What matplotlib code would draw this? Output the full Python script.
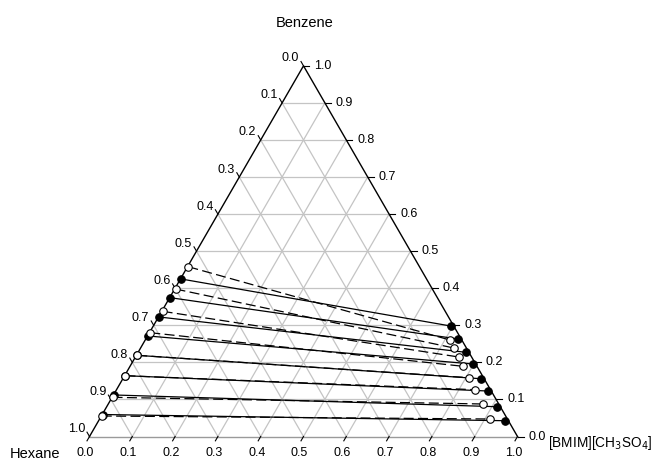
import numpy as np
import matplotlib
matplotlib.use('Agg')
import matplotlib.pyplot as plt

plt.rcParams['font.family'] = ['Liberation Sans', 'DejaVu Sans']

# tie lines, mass fractions (IL, benzene); hexane = 1 - IL - benzene
# filled symbols / solid lines
exp_hex_il = [0.002, 0.002, 0.002, 0.002, 0.002, 0.002, 0.002, 0.002]
exp_hex_bz = [0.4249, 0.3744, 0.3224, 0.2711, 0.2190, 0.1640, 0.1120, 0.0593]
exp_il_il = [0.6948, 0.7302, 0.7661, 0.7975, 0.8360, 0.8697, 0.9112, 0.9495]
exp_il_bz = [0.2981, 0.2630, 0.2271, 0.1956, 0.1559, 0.1227, 0.0804, 0.0426]
# open symbols / dashed lines
cal_hex_il = [0.002, 0.002, 0.002, 0.002, 0.002, 0.002, 0.001, 0.001]
cal_hex_bz = [0.4580, 0.3979, 0.3377, 0.2800, 0.2190, 0.1640, 0.1057, 0.0553]
cal_il_il = [0.7121, 0.7322, 0.7554, 0.7780, 0.8081, 0.8383, 0.8749, 0.9128]
cal_il_bz = [0.2603, 0.2387, 0.2145, 0.1894, 0.1586, 0.1262, 0.0877, 0.0472]

ticks = np.round(np.arange(0, 1.01, 0.1), 1)
H = np.sqrt(3) / 2
PX = 1 / 428.0  # one pixel in triangle units


def tern(il, bz):
    il = np.asarray(il)
    bz = np.asarray(bz)
    return il + bz / 2, bz * H


fig = plt.figure(figsize=(6.54, 4.62), dpi=100)
ax = fig.add_axes([0, 0, 1, 1])
ax.set_xlim(-89.5 * PX, (654 - 89.5) * PX)
ax.set_ylim(-(462 - 436.5) * PX, 436.5 * PX)
ax.axis('off')

gc = '#c4c4c4'
for t in ticks[1:-1]:
    # constant benzene
    ax.plot([t / 2, 1 - t / 2], [t * H, t * H], color=gc, lw=0.9, zorder=1)
    # constant IL
    ax.plot([t, t + (1 - t) / 2], [0, (1 - t) * H], color=gc, lw=0.9, zorder=1)
    # constant hexane
    ax.plot([1 - t, (1 - t) / 2], [0, (1 - t) * H], color=gc, lw=0.9, zorder=1)

# frame
ax.plot([0, 1], [0, 0], color='#9a9a9a', lw=1.0, zorder=2)
ax.plot([0, 0.5, 1], [0, H, 0], color='black', lw=1.0, zorder=2)

tl = 5 * PX
fs = 9
for t in ticks:
    lab = '%.1f' % t
    # left axis: hexane
    bx, by = (1 - t) / 2, (1 - t) * H
    ax.plot([bx, bx - 0.5 * tl], [by, by + H * tl], color='black', lw=0.8)
    ax.text(bx - 4.5 * PX, by + 4.5 * PX, lab, ha='right', va='baseline', fontsize=fs)
    # right axis: benzene
    rx, ry = 1 - t / 2, t * H
    ax.plot([rx, rx + tl * 1.2], [ry, ry], color='black', lw=0.8)
    ax.text(rx + 11 * PX, ry, lab, ha='left', va='center', fontsize=fs)
    # bottom axis: IL
    ax.plot([t, t - 0.5 * tl], [0, -H * tl], color='black', lw=0.8)
    ax.text(t - 4 * PX, -20 * PX, lab, ha='center', va='baseline', fontsize=fs)

ax.text(0.5035, 0.9575, 'Benzene', ha='center', va='baseline', fontsize=10.5)
ax.text(-0.1273, -0.0514, 'Hexane', ha='center', va='baseline', fontsize=10.5)
ax.text(1.0713, -0.0245, r'[BMIM][CH$_3$SO$_4$]', ha='left', va='baseline', fontsize=9.8)

ms = 5.4
for i in range(len(exp_hex_bz)):
    x, y = tern([exp_hex_il[i], exp_il_il[i]], [exp_hex_bz[i], exp_il_bz[i]])
    ax.plot(x, y, color='black', lw=0.9, zorder=3)
    x, y = tern([cal_hex_il[i], cal_il_il[i]], [cal_hex_bz[i], cal_il_bz[i]])
    ax.plot(x, y, color='black', lw=0.9, dashes=(8, 3.5), zorder=3)

x, y = tern(exp_hex_il + exp_il_il, exp_hex_bz + exp_il_bz)
ax.plot(x, y, 'o', ms=ms, mfc='black', mec='black', mew=0.8, zorder=4)
x, y = tern(cal_hex_il + cal_il_il, cal_hex_bz + cal_il_bz)
ax.plot(x, y, 'o', ms=ms, mfc='white', mec='black', mew=0.8, zorder=5)

fig.savefig('out.png', dpi=100)
